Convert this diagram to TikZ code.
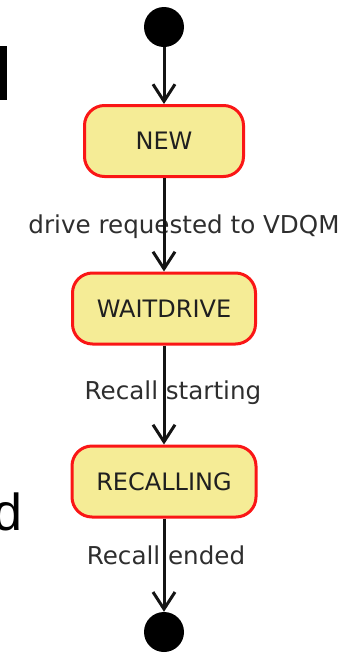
\documentclass[tikz,border=0pt]{standalone}
\usepackage{fontspec}
\setmainfont{DejaVu Sans}
\newfontfamily\bigsans{Liberation Sans}
\usetikzlibrary{arrows.meta}
\definecolor{stateRed}{RGB}{250,22,22}
\definecolor{stateFill}{RGB}{245,236,150}
\begin{document}
\begin{tikzpicture}[x=1pt,y=-1pt,
  state/.style={draw=stateRed, fill=stateFill, line width=3pt, rounded corners=20pt,
    minimum height=71pt, inner sep=0pt, text=black!88,
    font=\fontsize{24}{28}\selectfont},
  pseudo/.style={circle, fill=black, minimum size=40pt, inner sep=0pt},
  trans/.style={draw=black!92, line width=3pt,
    -{Straight Barb[length=17pt,width=22pt,line width=3pt]}},
  lbl/.style={font=\fontsize{24.6}{28}\selectfont, text=black!82, inner sep=0pt, anchor=base}]

\useasboundingbox (0,0) rectangle (351,654);
\clip (0,0) rectangle (351,654);

% fragments of large text at the left edge
\fill (0,46) rectangle (6.7,100);
\node[font=\bigsans\fontsize{52}{60}\selectfont, anchor=base west, inner sep=0pt] (dfrag) at (-6.6,530) {d};

% states
\node[pseudo] (init) at (164,27) {};
\node[state, minimum width=159pt] (new) at (164,141) {NEW};
\node[state, minimum width=183pt] (wait) at (164,308.5) {WAITDRIVE};
\node[state, minimum width=184pt] (recall) at (164,481.5) {RECALLING};
\node[pseudo] (final) at (164,632) {};

% transition labels
\node[lbl] (l1) at (184,233) {drive requested to VDQM};
\node[lbl] (l2) at (173,399) {Recall starting};
\node[lbl] (l3) at (166,564) {Recall ended};

% transitions
\draw[trans] (init.south) -- (new.north);
\draw[trans] (new.south) -- (wait.north);
\draw[trans] (wait.south) -- (recall.north);
\draw[trans] (recall.south) -- (final.north);
\end{tikzpicture}
\end{document}
